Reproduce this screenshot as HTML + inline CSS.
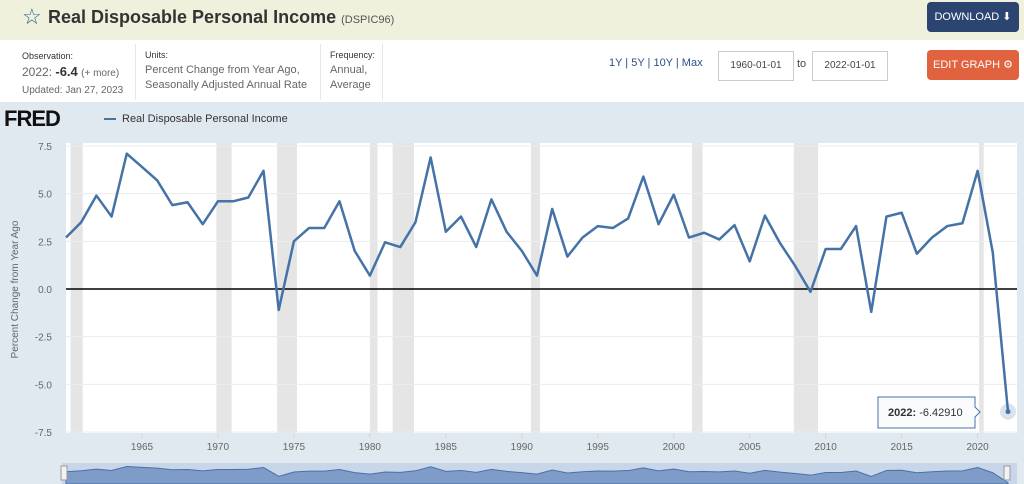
<!DOCTYPE html>
<html><head><meta charset="utf-8"><style>
body{margin:0;width:1024px;height:484px;overflow:hidden;font-family:"Liberation Sans",sans-serif;background:#e1e9f0;position:relative}
.abs{position:absolute}
</style></head><body>
<div class="abs" style="left:0;top:0;width:1024px;height:40px;background:#eff1dd"></div>
<div class="abs" style="left:22px;top:4px;font-size:22px;color:#3a5f9a">☆</div>
<div class="abs" style="left:48px;top:7px;font-size:18px;font-weight:bold;color:#333">Real Disposable Personal Income <span style="font-size:11px;font-weight:normal;color:#555">(DSPIC96)</span></div>
<div class="abs" style="left:927px;top:2px;width:92px;height:30px;background:#2b4470;border-radius:4px;color:#fff;font-size:11px;line-height:30px;text-align:center">DOWNLOAD ⬇</div>
<div class="abs" style="left:0;top:40px;width:1024px;height:62px;background:#fff"></div>
<div class="abs" style="left:22px;top:48px;font-size:9px;color:#333;line-height:16px">Observation:<br><span style="font-size:12px;color:#666">2022: <b style="color:#333;font-size:13px">-6.4</b> <span style="font-size:10px">(+ more)</span></span><br><span style="font-size:10px;color:#666">Updated: Jan 27, 2023</span></div>
<div class="abs" style="left:135px;top:44px;width:1px;height:56px;background:#e6e6e6"></div>
<div class="abs" style="left:145px;top:48px;font-size:9px;color:#333;line-height:15px">Units:<br><span style="font-size:11px;color:#666">Percent Change from Year Ago,<br>Seasonally Adjusted Annual Rate</span></div>
<div class="abs" style="left:320px;top:44px;width:1px;height:56px;background:#e6e6e6"></div>
<div class="abs" style="left:330px;top:48px;font-size:9px;color:#333;line-height:15px">Frequency:<br><span style="font-size:11px;color:#666">Annual,<br>Average</span></div>
<div class="abs" style="left:382px;top:44px;width:1px;height:56px;background:#e6e6e6"></div>
<div class="abs" style="left:609px;top:57px;font-size:11px;color:#2b4f8a">1Y | 5Y | 10Y | Max</div>
<div class="abs" style="left:718px;top:51px;width:74px;height:28px;border:1px solid #ccc;font-size:10px;line-height:28px;text-align:center;color:#444">1960-01-01</div>
<div class="abs" style="left:797px;top:58px;font-size:11px;color:#444">to</div>
<div class="abs" style="left:812px;top:51px;width:74px;height:28px;border:1px solid #ccc;font-size:10px;line-height:28px;text-align:center;color:#444">2022-01-01</div>
<div class="abs" style="left:927px;top:50px;width:92px;height:30px;background:#e0623f;border-radius:4px;color:#fff;font-size:11px;line-height:30px;text-align:center">EDIT GRAPH ⚙</div>
<div class="abs" style="left:4px;top:106px;font-size:22px;font-weight:900;color:#111;letter-spacing:-1px">FRED</div>
<div class="abs" style="left:104px;top:113px;font-size:11px;color:#333"><span style="display:inline-block;width:12px;height:2px;background:#4572a7;vertical-align:middle;margin-right:6px"></span>Real Disposable Personal Income</div>
<svg class="abs" style="left:0;top:0" width="1024" height="484" id="chart"></svg>
<script>
const years=[];for(let y=1960;y<=2022;y++)years.push(y);
const values=[2.7,3.5,4.9,3.8,7.1,6.4,5.7,4.4,4.55,3.4,4.6,4.6,4.8,6.2,-1.1,2.5,3.2,3.2,4.6,2.0,0.7,2.45,2.2,3.5,6.9,3.0,3.8,2.2,4.7,3.0,2.0,0.7,4.2,1.7,2.7,3.3,3.2,3.7,5.9,3.4,4.95,2.7,2.95,2.6,3.35,1.45,3.85,2.4,1.2,-0.15,2.1,2.1,3.3,-1.2,3.8,4.0,1.85,2.7,3.3,3.45,6.2,1.9,-6.4291];
const recessions=[[1960.3,1961.1],[1969.9,1970.9],[1973.9,1975.2],[1980.0,1980.5],[1981.5,1982.9],[1990.6,1991.2],[2001.2,2001.9],[2007.9,2009.5],[2020.1,2020.4]];
const yTicks=[7.5,5.0,2.5,0.0,-2.5,-5.0,-7.5];
const xTicks=[1965,1970,1975,1980,1985,1990,1995,2000,2005,2010,2015,2020];
const L=66,R=1008,T=146,B=433;
const X=y=>L+(y-1960)/(2022-1960)*(R-L);
const Y=v=>T+(7.5-v)/15*(432-T);
const svg=document.getElementById('chart');const NS='http://www.w3.org/2000/svg';
function el(t,a,p){const e=document.createElementNS(NS,t);for(const k in a)e.setAttribute(k,a[k]);(p||svg).appendChild(e);return e;}
el('rect',{x:L,y:T-3,width:R-L+9,height:B-T+3,fill:'#fff'});
recessions.forEach(r=>{const e=el('rect',{x:X(r[0]),y:T-3,width:X(r[1])-X(r[0]),height:B-T+3,fill:'#e5e5e5'});

});
yTicks.forEach(v=>{el('line',{x1:L,x2:R+9,y1:Y(v),y2:Y(v),stroke:'#ececec'});
const t=el('text',{x:52,y:Y(v)+4,'text-anchor':'end','font-size':10,fill:'#666'});t.textContent=v.toFixed(1);

});
xTicks.forEach(y=>{el('line',{x1:X(y),x2:X(y),y1:B,y2:B+5,stroke:'#ccd6eb'});
const t=el('text',{x:X(y),y:B+17,'text-anchor':'middle','font-size':10,fill:'#666'});t.textContent=y;

});
el('line',{x1:L,x2:R+9,y1:Y(0),y2:Y(0),stroke:'#000','stroke-width':1.5});
const yt=el('text',{x:18,y:(T+B)/2,'text-anchor':'middle','font-size':10,fill:'#666',transform:`rotate(-90 18 ${(T+B)/2})`});yt.textContent='Percent Change from Year Ago';


const line=el('polyline',{points:years.map((y,i)=>X(y)+','+Y(values[i])).join(' '),fill:'none',stroke:'#4572a7','stroke-width':2.5,'stroke-linejoin':'round'});


const li=years.length-1;
el('circle',{cx:X(years[li]),cy:Y(values[li]),r:8,fill:'#4572a7','fill-opacity':0.2});
el('circle',{cx:X(years[li]),cy:Y(values[li]),r:2.5,fill:'#4572a7'});
const tip=el('g',{});
el('path',{d:`M878 397 H975 V407 L980 412 L975 417 V428 H878 Z`,fill:'#fafbfd',stroke:'#4572a7','stroke-width':1},tip);
const tt=el('text',{x:888,y:416,'font-size':11,fill:'#333'},tip);tt.innerHTML='<tspan font-weight="bold">2022:</tspan> '+values[li].toFixed(5);
el('rect',{x:62,y:463,width:955,height:21,fill:'#c9d6ea'});
const NB=484,NT=463;const NY=v=>NT+3+(7.5-v)/15*18;
const nav=el('polygon',{points:`${X(1960)},${NB} `+years.map((y,i)=>X(y)+','+NY(values[i])).join(' ')+` ${X(2022)},${NB}`,fill:'#7f9cc9',stroke:'#4572a7','stroke-width':1});


el('rect',{x:61,y:466,width:6,height:14,fill:'#f2f2f2',stroke:'#999'});
el('rect',{x:1004,y:466,width:6,height:14,fill:'#f2f2f2',stroke:'#999'});
</script>
</body></html>
